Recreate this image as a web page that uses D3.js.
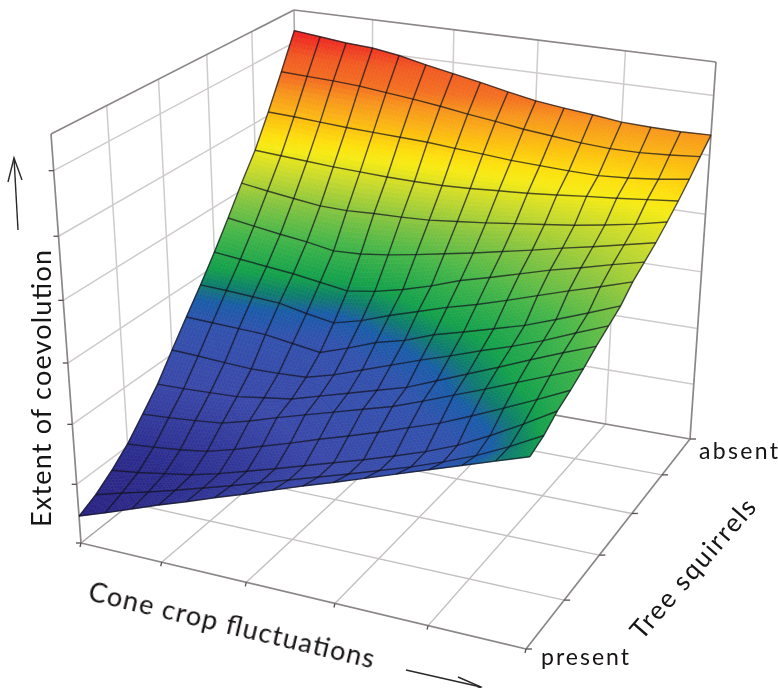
<!DOCTYPE html>
<html>
<head>
<meta charset="utf-8">
<script src="https://d3js.org/d3.v7.min.js"></script>
<style>
  html, body { margin: 0; padding: 0; background: #fff; }
  text { font-family: Lato, sans-serif; fill: #141213; }
</style>
</head>
<body>
<div id="chart"></div>
<script>
// grid steps along the two floor axes (0 = front)
var coneSteps = d3.range(16);
var squirrelSteps = d3.range(16);

// wall and floor divisions, in grid steps / height units
var coneTicks = [0, 3, 6, 9, 12, 15];
var squirrelTicks = [0, 3, 6, 9, 12, 15];
var heightTicks = [0, 1, 2, 3, 4, 5, 6];
var heightTop = 6.55;

// surface height, one row per squirrel step, front row first
var row00 = [0.46, 0.62, 0.79, 0.96, 1.12, 1.29, 1.45, 1.62, 1.79, 1.95, 2.12, 2.29, 2.46, 2.63, 2.80, 2.97];
var row01 = [0.60, 0.73, 0.85, 0.98, 1.12, 1.26, 1.41, 1.56, 1.71, 1.86, 2.02, 2.18, 2.36, 2.56, 2.80, 3.07];
var row02 = [0.80, 0.86, 0.94, 1.02, 1.14, 1.28, 1.42, 1.57, 1.72, 1.87, 2.03, 2.20, 2.40, 2.65, 2.93, 3.23];
var row03 = [1.04, 1.08, 1.13, 1.20, 1.33, 1.48, 1.63, 1.79, 1.94, 2.10, 2.27, 2.44, 2.65, 2.87, 3.10, 3.34];
var row04 = [1.35, 1.38, 1.42, 1.47, 1.60, 1.75, 1.89, 2.03, 2.17, 2.31, 2.49, 2.68, 2.87, 3.07, 3.27, 3.47];
var row05 = [1.67, 1.68, 1.70, 1.72, 1.79, 1.86, 2.00, 2.14, 2.28, 2.42, 2.62, 2.82, 3.02, 3.23, 3.43, 3.62];
var row06 = [2.07, 2.05, 2.02, 2.00, 2.01, 2.03, 2.16, 2.33, 2.50, 2.67, 2.83, 3.00, 3.16, 3.34, 3.55, 3.75];
var row07 = [2.46, 2.44, 2.42, 2.40, 2.33, 2.26, 2.42, 2.60, 2.72, 2.90, 3.03, 3.17, 3.31, 3.49, 3.68, 3.88];
var row08 = [2.84, 2.82, 2.79, 2.76, 2.66, 2.58, 2.70, 2.87, 3.02, 3.17, 3.30, 3.45, 3.61, 3.77, 3.92, 4.08];
var row09 = [3.24, 3.19, 3.14, 3.09, 3.02, 2.95, 3.02, 3.13, 3.27, 3.44, 3.57, 3.71, 3.85, 3.97, 4.10, 4.22];
var row10 = [3.67, 3.60, 3.53, 3.47, 3.39, 3.41, 3.47, 3.55, 3.64, 3.73, 3.83, 3.93, 4.04, 4.14, 4.25, 4.36];
var row11 = [4.12, 4.05, 3.99, 3.93, 3.92, 3.94, 3.95, 3.97, 4.02, 4.07, 4.13, 4.19, 4.25, 4.33, 4.42, 4.53];
var row12 = [4.54, 4.51, 4.48, 4.45, 4.43, 4.41, 4.40, 4.40, 4.42, 4.45, 4.48, 4.52, 4.57, 4.61, 4.66, 4.71];
var row13 = [5.06, 5.04, 5.01, 4.98, 4.96, 4.94, 4.92, 4.88, 4.85, 4.81, 4.79, 4.77, 4.76, 4.79, 4.84, 4.91];
var row14 = [5.62, 5.60, 5.58, 5.55, 5.50, 5.45, 5.39, 5.32, 5.26, 5.19, 5.14, 5.09, 5.06, 5.06, 5.09, 5.13];
var row15 = [6.20, 6.15, 6.10, 6.07, 6.00, 5.90, 5.81, 5.72, 5.62, 5.53, 5.47, 5.42, 5.36, 5.34, 5.33, 5.34];
var heights = [row00, row01, row02, row03, row04, row05, row06, row07, row08, row09, row10, row11, row12, row13, row14, row15];

// colour ramp by height
var rampHeights = [0.4, 1.0, 1.7, 2.4, 2.67, 2.84, 3.05, 3.5, 3.9, 4.3, 4.6, 4.75, 5.0, 5.35, 5.55, 5.85, 6.2];
var rampColors = ["#29217f", "#2c2d8e", "#3a48a8", "#3252ad", "#1a5ca8", "#117a70", "#12a04c", "#45b649", "#84c441",
                  "#c9da2c", "#f6eb14", "#fde00f", "#fcc010", "#f7941d", "#f37021", "#f15a22", "#ed1f24"];

var width = 778, height = 688;

var svg = d3.select("#chart").append("svg")
    .attr("width", width)
    .attr("height", height)
    .style("display", "block");

svg.append("filter").attr("id", "soft")
  .append("feGaussianBlur").attr("stdDeviation", 0.45);
svg.append("filter").attr("id", "softText")
  .append("feGaussianBlur").attr("stdDeviation", 0.3);

var chart = svg.append("g").attr("filter", "url(#soft)");

///////////////////////////////////////// Scales
var xScale = d3.scaleLinear().domain([0, 15]).range([0, 1]);
var yScale = d3.scaleLinear().domain([0, 15]).range([0, 1]);
var zScale = d3.scaleLinear().domain([0, heightTop]).range([0, 1]);
var color = d3.scaleLinear().domain(rampHeights).range(rampColors).clamp(true);

///////////////////////////////////////// Box projection
// corners go front-left, front-right, back-right, back-left
var floorCorners = [[81, 543], [526, 649], [690, 439], [300, 370]];
var topCorners = [[51, 134], [535, 211], [716, 62], [294, 10]];
var perspective = 0.93;

// unit square to quad, homogeneous result
function quadMap(c) {
  var dx1 = c[1][0] - c[2][0], dx2 = c[3][0] - c[2][0], sx = c[0][0] - c[1][0] + c[2][0] - c[3][0];
  var dy1 = c[1][1] - c[2][1], dy2 = c[3][1] - c[2][1], sy = c[0][1] - c[1][1] + c[2][1] - c[3][1];
  var den = dx1 * dy2 - dx2 * dy1;
  var g = (sx * dy2 - dx2 * sy) / den;
  var h = (dx1 * sy - sx * dy1) / den;
  return function(u, v) {
    return [
      (c[1][0] - c[0][0] + g * c[1][0]) * u + (c[3][0] - c[0][0] + h * c[3][0]) * v + c[0][0],
      (c[1][1] - c[0][1] + g * c[1][1]) * u + (c[3][1] - c[0][1] + h * c[3][1]) * v + c[0][1],
      g * u + h * v + 1
    ];
  };
}

var floorMap = quadMap(floorCorners);
var topMap = quadMap(topCorners);

function project(cone, squirrel, z) {
  var u = xScale(cone), v = yScale(squirrel), w = zScale(z);
  var f = floorMap(u, v), t = topMap(u, v);
  var a = 1 - w, b = w * perspective;
  var den = a * f[2] + b * t[2];
  return [(a * f[0] + b * t[0]) / den, (a * f[1] + b * t[1]) / den];
}

var line = d3.line();

function drawLine(from, to, stroke, sw) {
  chart.append("path")
    .attr("d", line([from, to]))
    .attr("fill", "none")
    .attr("stroke", stroke)
    .attr("stroke-width", sw);
}

///////////////////////////////////////// Walls and floor
var gridCol = "#cfcbcb", floorCol = "#c4c0c0", frameCol = "#8b8687";

// left wall
squirrelTicks.slice(1, -1).forEach(function(s) {
  drawLine(project(0, s, 0), project(0, s, heightTop), gridCol, 1.5);
});
heightTicks.slice(1).forEach(function(z) {
  drawLine(project(0, 0, z), project(0, 15, z), gridCol, 1.5);
});

// back wall
coneTicks.slice(1, -1).forEach(function(c) {
  drawLine(project(c, 15, 0), project(c, 15, heightTop), gridCol, 1.5);
});
heightTicks.slice(1).forEach(function(z) {
  drawLine(project(0, 15, z), project(15, 15, z), gridCol, 1.5);
});

// floor
coneTicks.slice(1, -1).forEach(function(c) {
  drawLine(project(c, 0, 0), project(c, 15, 0), floorCol, 1.4);
});
squirrelTicks.slice(1, -1).forEach(function(s) {
  drawLine(project(0, s, 0), project(15, s, 0), floorCol, 1.4);
});

// frame
drawLine(project(0, 15, 0), project(0, 15, heightTop), "#a9a5a5", 1.5);
drawLine(project(0, 15, 0), project(0, 0, 0), "#a9a5a5", 1.5);
drawLine(project(0, 15, 0), project(15, 15, 0), frameCol, 1.7);
drawLine(project(0, 0, 0), project(0, 0, heightTop), frameCol, 1.7);
drawLine(project(15, 15, 0), project(15, 15, heightTop), frameCol, 1.7);
drawLine(project(0, 0, heightTop), project(0, 15, heightTop), frameCol, 1.7);
drawLine(project(0, 15, heightTop), project(15, 15, heightTop), frameCol, 1.7);
drawLine(project(0, 0, 0), project(15, 0, 0), frameCol, 1.7);
drawLine(project(15, 0, 0), project(15, 15, 0), frameCol, 1.7);

// ticks
var tickCol = "#55504f";
heightTicks.forEach(function(z) {
  var p = project(0, 0, z);
  drawLine(p, [p[0] - 5, p[1]], tickCol, 1.3);
});
coneTicks.forEach(function(c) {
  var p = project(c, 0, 0);
  drawLine(p, [p[0] - 1, p[1] + 4], tickCol, 1.3);
});
squirrelTicks.forEach(function(s) {
  var p = project(15, s, 0);
  drawLine(p, [p[0] + 6, p[1]], tickCol, 1.3);
});

///////////////////////////////////////// Surface
var surface = chart.append("g");
var shade = d3.range(8);

// each cell is painted in small pieces so the colour runs smoothly
function heightAt(j, i, fy, fx) {
  var a = heights[j][i], b = heights[j][i + 1], c = heights[j + 1][i], d = heights[j + 1][i + 1];
  return (a * (1 - fx) + b * fx) * (1 - fy) + (c * (1 - fx) + d * fx) * fy;
}

squirrelSteps.slice(0, -1).forEach(function(j) {
  coneSteps.slice(0, -1).forEach(function(i) {
    shade.forEach(function(n) {
      shade.forEach(function(m) {
        var s = 1 / shade.length;
        var x0 = m * s, x1 = (m + 1) * s, y0 = n * s, y1 = (n + 1) * s;
        var pts = [[x0, y0], [x1, y0], [x1, y1], [x0, y1]].map(function(q) {
          return project(i + q[0], j + q[1], heightAt(j, i, q[1], q[0]));
        });
        var c = color(heightAt(j, i, (y0 + y1) / 2, (x0 + x1) / 2));
        surface.append("path")
          .attr("d", line(pts) + "Z")
          .attr("fill", c)
          .attr("stroke", c)
          .attr("stroke-width", 0.6);
      });
    });
  });
});

// mesh lines on top
var mesh = chart.append("g")
    .attr("fill", "none")
    .attr("stroke", "#14141e")
    .attr("stroke-opacity", 0.72)
    .attr("stroke-width", 1.4);

squirrelSteps.forEach(function(j) {
  mesh.append("path").attr("d", line(coneSteps.map(function(i) {
    return project(i, j, heights[j][i]);
  })));
});
coneSteps.forEach(function(i) {
  mesh.append("path").attr("d", line(squirrelSteps.map(function(j) {
    return project(i, j, heights[j][i]);
  })));
});

///////////////////////////////////////// Labels
var labels = svg.append("g").attr("filter", "url(#softText)");

labels.append("text")
    .attr("transform", "translate(51,527) rotate(-90)")
    .attr("font-size", 27)
    .attr("textLength", 277)
    .text("Extent of coevolution");

labels.append("text")
    .attr("transform", "translate(87,600) rotate(13.5)")
    .attr("font-size", 27)
    .attr("textLength", 293)
    .text("Cone crop fluctuations");

labels.append("text")
    .attr("transform", "translate(642,641) rotate(-49)")
    .attr("font-size", 26)
    .attr("textLength", 176)
    .text("Tree squirrels");

labels.append("text")
    .attr("x", 541)
    .attr("y", 665)
    .attr("font-size", 23)
    .attr("textLength", 88)
    .text("present");

labels.append("text")
    .attr("x", 699)
    .attr("y", 459)
    .attr("font-size", 23)
    .attr("textLength", 79)
    .text("absent");

///////////////////////////////////////// Axis arrows
var arrows = svg.append("g")
    .attr("fill", "none")
    .attr("stroke", "#2b2829")
    .attr("stroke-width", 1.4);

arrows.append("path").attr("d", line([[18, 230], [14, 158]]));
arrows.append("path").attr("d", line([[8, 182], [14, 158], [22, 180]]));
arrows.append("path").attr("d", line([[406, 670], [481, 687]]));
arrows.append("path").attr("d", line([[458, 677], [481, 687], [458, 697]]));
</script>
</body>
</html>
